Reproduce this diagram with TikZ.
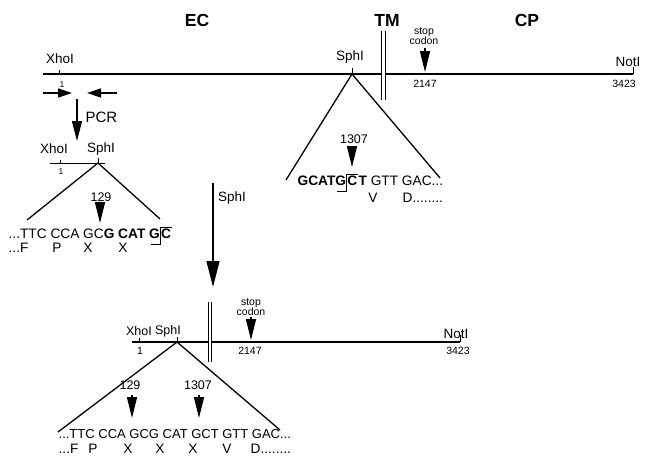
\documentclass[tikz,border=0pt]{standalone}
\usepackage{fontspec}
\setmainfont{Liberation Sans}
\usetikzlibrary{arrows.meta,calc}

\begin{document}
\begin{tikzpicture}[x=1pt, y=-1pt, line width=1.3pt,
  every node/.style = {inner sep=0pt},
  region/.style = {font=\fontsize{17.5}{17.5}\selectfont\bfseries},
  site/.style = {font=\fontsize{13.5}{13.5}\selectfont},
  num/.style = {font=\fontsize{12.5}{12.5}\selectfont},
  bpnum/.style = {font=\fontsize{10.5}{10.5}\selectfont},
  one/.style = {font=\fontsize{8.5}{8.5}\selectfont},
  seq/.style = {font=\fontsize{13.7}{13.7}\selectfont, anchor=base west},
  aa/.style = {font=\fontsize{13.7}{13.7}\selectfont, anchor=base},
  stopc/.style = {font=\fontsize{10.5}{10.5}\selectfont, align=center},
  tickline/.style = {line width=0.9pt},
  tmline/.style = {double, double distance=2.6pt, line width=0.9pt},
  sitehead/.style = {-{Triangle[length=21pt,width=10pt]}},
  pcrarrow/.style = {-{Triangle[length=20pt,width=10pt]}},
  cutarrow/.style = {-{Triangle[length=26pt,width=13pt]}},
  primer/.style = {-{Triangle[length=14pt,width=9pt]}, line width=1.6pt}]
\useasboundingbox (0,0) rectangle (649,466);

% domains
\node[region] (ec) at (197,20) {EC};
\node[region] (tm) at (387,20) {TM};
\node[region] (cp) at (527,20) {CP};

% full-length cDNA
\coordinate (a0) at (43,74);
\coordinate (xho) at (59,74);
\coordinate (sph) at (352,74);
\coordinate (stp) at (425,74);
\coordinate (nt) at (633,74);
\draw (a0) -- (nt);
\draw[tickline] (xho) -- ++(0,-4);
\draw[tickline] (sph) -- ++(0,-6);
\draw[tickline] (nt) -- ++(0,-7);
\node[site] (xhoA) at (60,59) {XhoI};
\node[site] (sphA) at (350,57) {SphI};
\node[site] (notA) at (628,62) {NotI};
\node[one] (oneA) at (62,85) {1};
\node[bpnum] (stpA) at (425,84) {2147};
\node[bpnum] (endA) at (624,84) {3423};
\node[stopc] (stopA) at (424,36) {stop\\codon};
\coordinate (tmA1) at (383.5,31);
\coordinate (tmA2) at (383.5,100);
\draw[tmline] (tmA1) -- (tmA2);
\coordinate (hdA) at (425,48);
\draw[sitehead] (hdA) -- (425,72);

% PCR
\coordinate (pf1) at (43,93);
\coordinate (pf2) at (72,93);
\coordinate (pr1) at (117,93);
\coordinate (pr2) at (87,93);
\draw[primer] (pf1) -- (pf2);
\draw[primer] (pr1) -- (pr2);
\coordinate (pcr1) at (77,99);
\coordinate (pcr2) at (77,141);
\draw[pcrarrow] (pcr1) -- (pcr2);
\node[site, anchor=west, font=\fontsize{15}{15}\selectfont] (pcr) at (85,117) {PCR};

% PCR fragment
\node[site] (xhoB) at (54,149) {XhoI};
\node[site] (sphB) at (101,149) {SphI};
\coordinate (b0) at (50,163);
\coordinate (b1) at (105,163);
\coordinate (xhoB1) at (60,163);
\coordinate (sphB1) at (98,163);
\draw[tickline] (b0) -- (b1);
\draw[tickline] (xhoB1) -- ++(0,-3);
\draw[tickline] (sphB1) -- ++(0,-5);
\node[one] (oneB) at (61,172) {1};
\coordinate (trB1) at (27,220);
\coordinate (trB2) at (160,219);
\draw (trB1) -- (sphB1) -- (trB2);
\node[num] (n129B) at (101,197) {129};
\draw[sitehead] (100,203) -- (100,223);
\node[seq] (sqB1) at (8,238) {...TTC CCA GC\textbf{G CAT G}};
\node[seq] (sqB2) at (sqB1.base east) {\textbf{C}};
\draw[tickline] (sqB2.north east) -- (sqB2.north west) -- ($(sqB2.base west)+(0,6)$) -- ++(-10,0);
\node[seq] (aaB1) at (8,252) {...F};
\node[aa] (aaB2) at (57,252) {P};
\node[aa] (aaB3) at (88,252) {X};
\node[aa] (aaB4) at (123,252) {X};

% SphI digestion
\coordinate (cut1) at (213,183);
\coordinate (cut2) at (213,287);
\draw[cutarrow] (cut1) -- (cut2);
\node[site] (cutl) at (232,198) {SphI};

% SphI site at 1307
\coordinate (trC1) at (286,180);
\coordinate (trC2) at (440,178);
\draw (trC1) -- (sph) -- (trC2);
\node[num] (n1307C) at (354,139) {1307};
\draw[sitehead] (352,147) -- (352,167);
\node[seq] (sqC1) at (297,185) {\textbf{GCATG}};
\node[seq] (sqC2) at (sqC1.base east) {\textbf{C}};
\node[seq] (sqC3) at (sqC2.base east) {\textbf{T} GTT GAC...};
\draw[tickline] (sqC2.north east) -- (sqC2.north west) -- ($(sqC2.base west)+(0,6)$) -- ++(-10,0);
\node[aa] (aaC1) at (373,202) {V};
\node[seq] (aaC2) at (402,202) {D........};

% deleted construct
\coordinate (d0) at (132,342);
\coordinate (xhoD) at (139,342);
\coordinate (sphD) at (177,342);
\coordinate (ntD) at (460,342);
\draw (d0) -- (ntD);
\draw[tickline] (xhoD) -- ++(0,-4);
\draw[tickline] (sphD) -- ++(0,-5);
\draw[tickline] (ntD) -- ++(0,-7);
\node[site, font=\fontsize{12.5}{12.5}\selectfont] (xhoDl) at (139,331) {XhoI};
\node[site, font=\fontsize{12.5}{12.5}\selectfont] (sphDl) at (168,331) {SphI};
\node[site] (notDl) at (456,334) {NotI};
\node[bpnum] (oneD) at (140,351) {1};
\node[bpnum] (stpD) at (250,351) {2147};
\node[bpnum] (endD) at (458,351) {3423};
\node[stopc] (stopD) at (251,307) {stop\\codon};
\draw[sitehead] (251,317) -- (251,340);
\coordinate (tmD1) at (210,302);
\coordinate (tmD2) at (210,362);
\draw[tmline] (tmD1) -- (tmD2);
\coordinate (trD1) at (58,432);
\coordinate (trD2) at (280,430);
\draw (trD1) -- (sphD) -- (trD2);
\node[num] (n129D) at (130,385) {129};
\draw[sitehead] (132,395) -- (132,418);
\node[num] (n1307D) at (198,385) {1307};
\draw[sitehead] (199,395) -- (199,418);
\node[seq, font=\fontsize{13}{13}\selectfont] (sqD) at (58,438) {...TTC CCA GCG CAT GCT GTT GAC...};
\node[seq] (aaD1) at (58,453) {...F};
\node[aa] (aaD2) at (93,453) {P};
\node[aa] (aaD3) at (128,453) {X};
\node[aa] (aaD4) at (160,453) {X};
\node[aa] (aaD5) at (193,453) {X};
\node[aa] (aaD6) at (227,453) {V};
\node[seq] (aaD7) at (250,453) {D........};
\end{tikzpicture}
\end{document}
